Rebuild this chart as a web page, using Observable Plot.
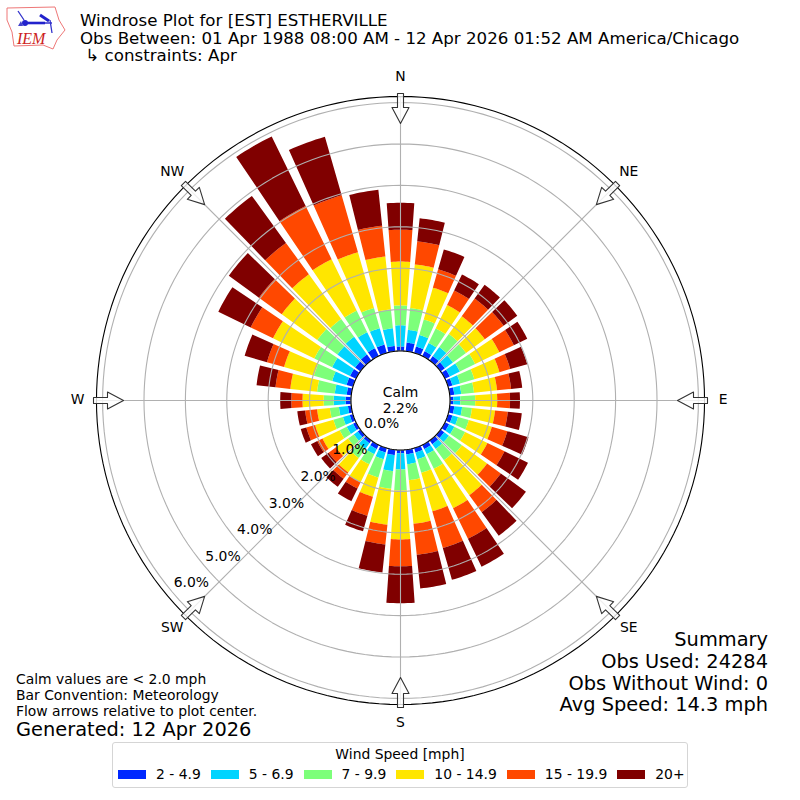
<!DOCTYPE html>
<html><head><meta charset="utf-8">
<script src="https://cdn.jsdelivr.net/npm/d3@7"></script>
<script src="https://cdn.jsdelivr.net/npm/@observablehq/plot@0.6"></script>
<style>
html,body{margin:0;padding:0;background:#fff}
#root{position:relative;width:800px;height:800px;overflow:hidden;font-family:"DejaVu Sans",sans-serif;color:#000}
#root svg.plot{position:absolute;left:0;top:0}
.t{position:absolute;white-space:pre;line-height:1}
#legend{position:absolute;left:112px;top:742px;width:576px;height:46px;box-sizing:border-box;border:1px solid #d5d5d5;border-radius:3px;font-size:13.9px;background:#fff}
#legend .lt{position:absolute;left:0;right:0;top:3px;text-align:center}
#legend .row{position:absolute;left:5px;top:23px;display:flex;align-items:center;white-space:pre}
#legend .sw{width:28px;height:9px;margin-right:10px}
#legend .lb{margin-right:10px}
</style></head><body>
<div id="root"></div>
<script>
// wind direction in degrees (meteorological, clockwise from north)
const directions = d3.range(0, 360, 10);
const speedBins = ["2 - 4.9","5 - 6.9","7 - 9.9","10 - 14.9","15 - 19.9","20+"];
const binColors = ["#0028ff","#00d4ff","#7dff7a","#ffe600","#ff4800","#800000"];
// percent of observations per direction for each speed bin
const bin2to5   = [.11,.21,.16,.13,.13,.13,.13,.11,.11,.08,.11,.11,.11,.11,.11,.11,.11,.11,.08,.13,.11,.11,.08,.08,.08,.08,.08,.13,.11,.16,.16,.16,.18,.21,.21,.13];
const bin5to7   = [.51,.31,.29,.22,.27,.24,.27,.19,.17,.17,.19,.14,.14,.14,.14,.14,.17,.24,.39,.39,.17,.14,.17,.12,.17,.17,.22,.29,.29,.36,.48,.53,.53,.43,.41,.43];
const bin7to10  = [.48,.53,.39,.39,.39,.39,.41,.36,.31,.36,.24,.27,.29,.39,.34,.39,.34,.39,.51,.43,.46,.27,.27,.17,.19,.24,.22,.24,.43,.46,.48,.60,.53,.58,.51,.46];
const bin10to15 = [1.06,1.06,.80,.63,.53,.56,.65,.63,.56,.53,.56,.58,.60,.75,1.04,1.06,.97,1.06,1.18,.87,.48,.48,.43,.36,.46,.46,.31,.51,.65,.75,1.11,1.06,1.33,1.38,1.40,1.28];
const bin15to20 = [.77,.56,.46,.39,.53,.56,.39,.27,.34,.31,.31,.39,.46,.41,.51,.82,.92,.75,.65,.48,.48,.17,.19,.22,.14,.22,.29,.27,.36,.43,.60,.68,.94,1.43,1.43,.75];
const bin20plus = [.65,.56,.50,.43,.41,.41,.36,.43,.27,.24,.34,.53,.63,.75,.70,.75,.80,.82,.89,.68,.39,.34,.24,.22,.17,.14,.19,.27,.46,.56,.87,.90,1.40,1.87,1.47,.87];
const series = [bin2to5,bin5to7,bin7to10,bin10to15,bin15to20,bin20plus];
const rTicks = [0,1,2,3,4,5,6];
const compass = [["N",0],["NE",45],["E",90],["SE",135],["S",180],["SW",225],["W",270],["NW",315]];
const calmPct = "2.2%";
const hole = 1.196, rMax = 6.148, labelR = 6.6, half = 4, unit = 1/41.4, extent = 400*unit;

const px = (v,deg)=>(v+hole)*Math.sin(deg*Math.PI/180);
const py = (v,deg)=>(v+hole)*Math.cos(deg*Math.PI/180);

// wedges
const wedges = [];
directions.forEach((dir,i)=>{
  let base = 0;
  series.forEach((s,b)=>{
    const top = base + s[i], id = dir+"-"+b;
    const angs = d3.range(-half, half+0.01, 1);
    angs.forEach(a=>wedges.push({id,bin:speedBins[b],x:px(top,dir+a),y:py(top,dir+a)}));
    [...angs].reverse().forEach(a=>wedges.push({id,bin:speedBins[b],x:px(base,dir+a),y:py(base,dir+a)}));
    base = top;
  });
});
// circles
const ring = (v,id)=>d3.range(0,360,2).map(a=>({id,x:px(v,a),y:py(v,a)}));
const rings = rTicks.flatMap(v=>ring(v,"r"+v));
const outer = ring(rMax,"outer");
const inner = ring(0,"inner");
const spokes = compass.flatMap(([n,a])=>[{id:n,x:px(0,a),y:py(0,a)},{id:n,x:px(rMax,a),y:py(rMax,a)}]);
// flow arrows, pointing to the centre
const arrowShape = [[307,-3],[307,3],[293,3],[293,8.5],[277,0],[293,-8.5],[293,-3]];
const arrows = compass.flatMap(([n,a])=>{
  const t=a*Math.PI/180;
  return arrowShape.map(([r,w])=>({id:n,
    x:(r*Math.sin(t)+w*Math.cos(t))*unit,
    y:(r*Math.cos(t)-w*Math.sin(t))*unit}));
});
const compassLabels = compass.map(([n,a])=>({n,x:px(labelR,a),y:py(labelR,a)}));
const rLabels = rTicks.map(v=>({t:v.toFixed(1)+"%",x:px(v,230),y:py(v,230)}));

const chart = Plot.plot({
  width:800,height:800,margin:0,
  x:{domain:[-extent,extent],axis:null},
  y:{domain:[-extent,extent],axis:null},
  color:{domain:speedBins,range:binColors},
  style:{fontFamily:'"DejaVu Sans",sans-serif',background:"transparent"},
  marks:[
    Plot.line(wedges,{x:"x",y:"y",z:"id",fill:"bin",stroke:"none",curve:"linear-closed"}),
    Plot.line(rings,{x:"x",y:"y",z:"id",stroke:"#b0b0b0",strokeWidth:1.1,curve:"linear-closed"}),
    Plot.line(spokes,{x:"x",y:"y",z:"id",stroke:"#b0b0b0",strokeWidth:1.1}),
    Plot.line(outer,{x:"x",y:"y",stroke:"#000",strokeWidth:1.1,curve:"linear-closed"}),
    Plot.line(inner,{x:"x",y:"y",fill:"#fff",stroke:"#000",strokeWidth:1.1,curve:"linear-closed"}),
    Plot.line(arrows,{x:"x",y:"y",z:"id",fill:"#fff",fillOpacity:.8,stroke:"#333",strokeWidth:1.1,curve:"linear-closed"}),
    Plot.text(compassLabels,{x:"x",y:"y",text:"n",dx:0,dy:-1,fontSize:13.9,fill:"#000"}),
    Plot.text(rLabels,{x:"x",y:"y",text:"t",dx:19,dy:-9,fontSize:13.9,fill:"#000"}),
    Plot.text(["Calm\n"+calmPct],{x:()=>0,y:()=>0,text:d=>d,dy:-0.5,lineHeight:1.1,fontSize:13.9,fill:"#000"})
  ]
});
const root = document.getElementById("root");
root.appendChild(chart);

const put=(txt,css)=>{const d=document.createElement("div");d.className="t";d.textContent=txt;d.style.cssText=css;root.appendChild(d);};
const titles=[["Windrose Plot for [EST] ESTHERVILLE",12.5],["Obs Between: 01 Apr 1988 08:00 AM - 12 Apr 2026 01:52 AM America/Chicago",30.5],[" ↳ constraints: Apr",48]];
titles.forEach(([t,y])=>put(t,`left:80px;top:${y}px;font-size:16.67px`));
[["Calm values are < 2.0 mph",673],["Bar Convention: Meteorology",689],["Flow arrows relative to plot center.",705]].forEach(([t,y])=>put(t,`left:16px;top:${y}px;font-size:13.9px`));
put("Generated: 12 Apr 2026","left:16px;top:720px;font-size:19.4px");
[["Summary",630],["Obs Used: 24284",652],["Obs Without Wind: 0",674],["Avg Speed: 14.3 mph",695]].forEach(([t,y])=>put(t,`right:32px;top:${y}px;font-size:19.4px`));

const lg=document.createElement("div");lg.id="legend";
lg.innerHTML='<div class="lt">Wind Speed [mph]</div><div class="row">'+speedBins.map((b,i)=>`<span class="sw" style="background:${binColors[i]}"></span><span class="lb">${b}</span>`).join("")+'</div>';
root.appendChild(lg);

// IEM logo
const logo=document.createElement("div");logo.style.cssText="position:absolute;left:0;top:0";
logo.innerHTML=`<svg width="70" height="54" viewBox="0 0 70 54"><path d="M7 8 L55 7 L59 20 L65 30 L57 40 L53 49 L43 45 L14 46 L12 32 L7 20 Z" fill="none" stroke="#e77" stroke-width="1"/>
<path d="M25 23 L45 23" stroke="#22c" stroke-width="2.6" fill="none"/>
<path d="M45 23 L52 23 M18 11 L24 20 M50 20 L52 33" stroke="#33c" stroke-width="1.3" fill="none"/>
<path d="M40 15 L49 21" stroke="#22c" stroke-width="3" fill="none"/>
<circle cx="25" cy="23" r="3" fill="#22c"/><path d="M18 26 L21 21 L23 26 Z" fill="#44c"/>
<text x="17" y="43.5" font-family="Liberation Serif,serif" font-style="italic" font-size="16" fill="#c22">IEM</text></svg>`;
root.appendChild(logo);
</script>
</body></html>
